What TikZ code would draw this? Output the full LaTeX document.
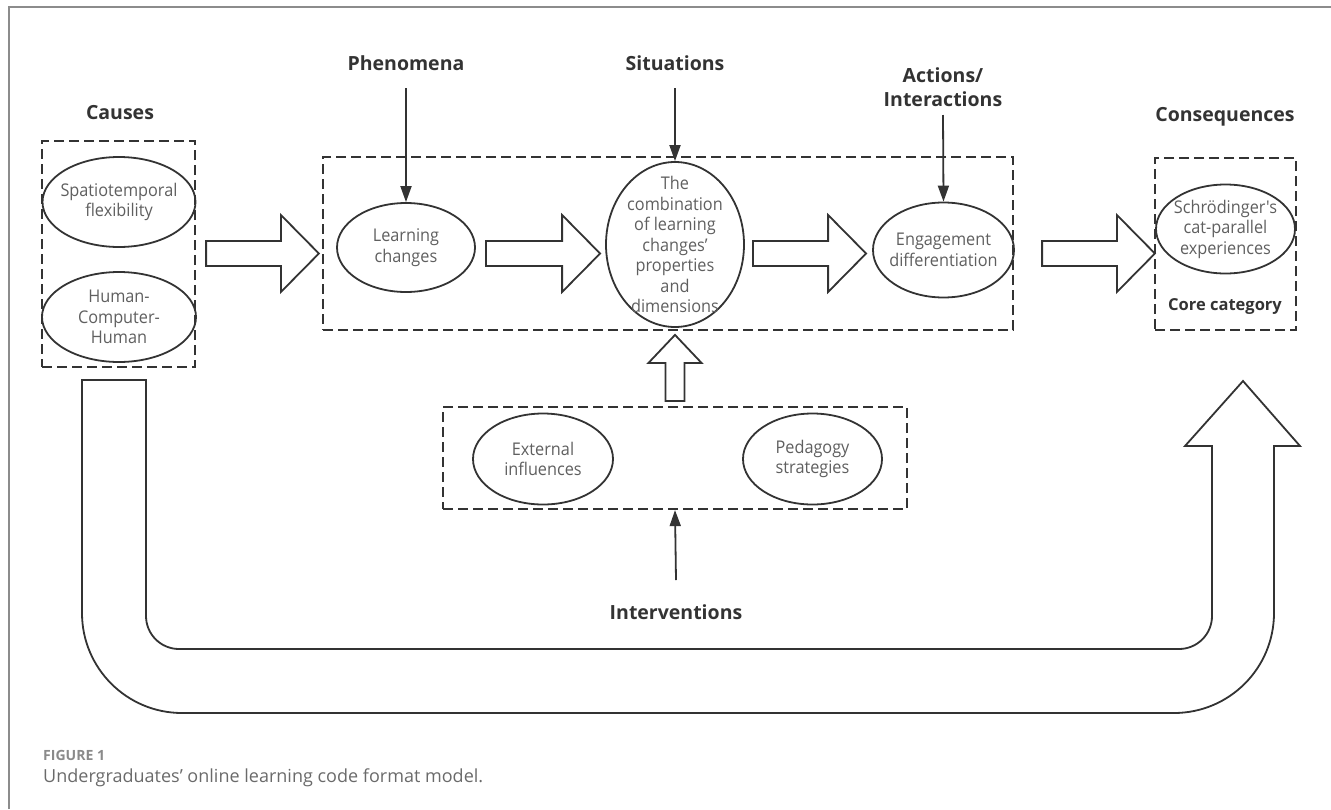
\documentclass[tikz,border=0pt]{standalone}
\usepackage{graphicx}
\usepackage{fontspec}
\setmainfont{Open Sans}
\newfontfamily\ovalfont[FakeStretch=0.93]{Open Sans}
\usetikzlibrary{shapes.geometric,arrows.meta,calc}
\definecolor{ink}{HTML}{333333}
\definecolor{txtgray}{HTML}{5F5F5F}
\definecolor{framegray}{HTML}{8C8C8C}
\definecolor{capgray}{HTML}{8A8A8A}
\definecolor{captext}{HTML}{6A6A6A}
\tikzset{
  dbox/.style={draw=ink, line width=2.2pt, dash pattern=on 10pt off 5pt, rectangle, inner sep=0pt},
  oval/.style={draw=ink, line width=1.8pt, ellipse, inner sep=0pt},
  otext/.style={text=txtgray, align=center, font=\ovalfont\fontsize{17.5}{20.5}\selectfont, inner sep=0pt},
  lbl/.style={text=ink, align=center, font=\bfseries\fontsize{19.5}{24}\selectfont, inner sep=0pt},
  blk/.style={draw=ink, line width=1.8pt, fill=white, line join=miter},
  thinarr/.style={draw=ink, line width=1.8pt, -{Triangle[length=16pt,width=11pt]}},
  framel/.style={draw=framegray, line width=1.5pt}
}
\newcommand\blockH[2]{\draw[blk] let \p1=#1, \p2=#2 in
  (\x1,\y1+12.5pt) -- (\x2-38pt,\y1+12.5pt) -- (\x2-38pt,\y1+38.5pt) -- (\x2,\y1)
  -- (\x2-38pt,\y1-38.5pt) -- (\x2-38pt,\y1-12.5pt) -- (\x1,\y1-12.5pt) -- cycle;}
\begin{document}
\begin{tikzpicture}[x=1pt,y=-1pt]
\useasboundingbox (0,0) rectangle (1331,809);
% frame
\draw[framel] (9,809) -- (9,7) -- (1331,7);

% dashed groups
\node[dbox, minimum width=153pt, minimum height=226pt] (causesbox) at (118.5,254) {};
\node[dbox, minimum width=690pt, minimum height=173pt] (midbox) at (668,243.5) {};
\node[dbox, minimum width=141pt, minimum height=172pt] (consbox) at (1225.5,244) {};
\node[dbox, minimum width=464pt, minimum height=102pt] (intbox) at (675,458) {};

% ellipses
\node[oval, minimum width=153pt, minimum height=90pt, label={[otext]center:Spatiotemporal\\flexibility}] (sf) at (119,202) {};
\node[oval, minimum width=154pt, minimum height=90pt, label={[otext]center:Human-\\Computer-\\Human}] (hch) at (119,317) {};
\node[oval, minimum width=138pt, minimum height=89pt, label={[otext]center:Learning\\changes}] (lc) at (406,247.5) {};
\node[oval, minimum width=138pt, minimum height=165pt, label={[otext]center:The\\combination\\of learning\\changes’\\properties\\and\\dimensions}] (comb) at (675,244.5) {};
\node[oval, minimum width=141pt, minimum height=95pt, label={[otext]center:Engagement\\differentiation}] (eng) at (943.5,250) {};
\node[oval, minimum width=139pt, minimum height=89pt, label={[otext]center:Schrödinger's\\cat-parallel\\experiences}] (sch) at (1225.5,229) {};
\node[oval, minimum width=140pt, minimum height=91pt, label={[otext]center:External\\influences}] (ext) at (543,459) {};
\node[oval, minimum width=139pt, minimum height=91pt, label={[otext]center:Pedagogy\\strategies}] (ped) at (812.5,459) {};

% labels
\node[lbl] (causes) at (120,113) {Causes};
\node[lbl] (phen) at (406,63) {Phenomena};
\node[lbl] (sit) at (675,63) {Situations};
\node[lbl] (act) at (943,87) {Actions/\\Interactions};
\node[lbl] (cons) at (1225,117) {Consequences};
\node[lbl] (interv) at (676,612) {Interventions};
\node[text=ink, font=\bfseries\fontsize{16.5}{20}\selectfont, inner sep=0pt] (core) at (1225,307) {Core category};

% thin arrows
\draw[thinarr] (phen) ++(0,25) -- (lc.north);
\draw[thinarr] (sit) ++(0,25) -- (comb.north);
\draw[thinarr] (act) ++(0,28) -- (eng.north);
\draw[thinarr] (interv) ++(0,-32) -- (intbox.south);

% block arrows
\coordinate (row) at (0,253.5);
\blockH{($(causesbox.east |- row)+(10,0)$)}{($(midbox.west |- row)+(-3,0)$)}
\blockH{($(lc.east |- row)+(10,0)$)}{($(comb.west |- row)+(-5,0)$)}
\blockH{($(comb.east |- row)+(8,0)$)}{($(eng.west |- row)+(-6,0)$)}
\blockH{($(midbox.east |- row)+(28,0)$)}{($(consbox.west |- row)+(1,0)$)}

\draw[blk] let \p1=($(intbox.north)+(0,-5)$), \p2=($(comb.south)+(0,7)$) in
  (\x1-9.5pt,\y1) -- (\x1-9.5pt,\y2-28pt) -- (\x1-26.5pt,\y2-28pt) -- (\x1,\y2)
  -- (\x1+26.5pt,\y2-28pt) -- (\x1+9.5pt,\y2-28pt) -- (\x1+9.5pt,\y1) -- cycle;

% U-shaped block arrow
\draw[blk] (82,380) -- (146,380) -- (146,616) arc[start angle=180, end angle=90, radius=33]
  -- (1179,649) arc[start angle=90, end angle=0, radius=33]
  -- (1212,446) -- (1185,446) -- (1243,381) -- (1300,446) -- (1274,446)
  -- (1274,613) arc[start angle=0, end angle=90, radius=100]
  -- (182,713) arc[start angle=90, end angle=180, radius=100] -- cycle;

% caption
\node[anchor=west, text=capgray, font=\bfseries, inner sep=0pt] (fig) at (43,755) {\resizebox{62pt}{!}{FIGURE 1}};
\node[anchor=west, text=captext, inner sep=0pt] (cap) at (43,778) {\resizebox{440pt}{!}{Undergraduates’ online learning code format model.}};
\end{tikzpicture}
\end{document}
